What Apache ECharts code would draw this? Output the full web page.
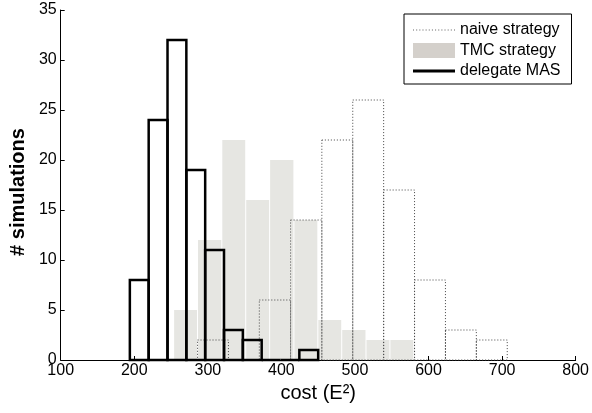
<!DOCTYPE html>
<html>
<head>
<meta charset="utf-8">
<script src="https://cdn.jsdelivr.net/npm/echarts@6/dist/echarts.min.js"></script>
<style>
html,body{margin:0;padding:0;background:#fff;}
#c{width:592px;height:413px;}
</style>
</head>
<body>
<div id="c"></div>
<script>
// Bin edges (cost, E^2) and counts
var naiveEdges = [286, 328, 370, 412.5, 455, 497, 539, 581, 623, 665, 707];
var naiveCounts = [2, 0, 6, 14, 22, 26, 17, 8, 3, 2];

var tmcEdges = [253.5, 286, 319, 351.5, 384, 417, 449.5, 482, 515, 547.5, 580];
var tmcCounts = [5, 12, 22, 16, 20, 14, 4, 3, 2, 2];

var masEdges = [194, 219.6, 245.2, 270.8, 296.4, 322, 347.6, 373.2, 398.8, 424.4, 450];
var masCounts = [8, 24, 32, 19, 11, 3, 2, 0, 0, 1];

var xTicks = {min: 100, max: 800, interval: 100};
var yTicks = {min: 0, max: 35, interval: 5};

var seriesNames = ['naive strategy', 'TMC strategy', 'delegate MAS'];

function bins(edges, counts) {
  var out = [];
  for (var i = 0; i < counts.length; i++) out.push([edges[i], edges[i + 1], counts[i]]);
  return out;
}

var FONT = '"Liberation Sans", Arial, sans-serif';

function makeRender(kind) {
  return function (params, api) {
    var p0 = api.coord([api.value(0), 0]);
    var p1 = api.coord([api.value(1), api.value(2)]);
    var x = p0[0], w = p1[0] - p0[0], y = p1[1], h = p0[1] - p1[1];
    if (kind === 'tmc') {
      return {type: 'rect', shape: {x: x + 0.5, y: y, width: w - 1, height: h},
        style: {fill: '#e6e6e2', stroke: null}};
    }
    if (kind === 'naive') {
      return {type: 'rect', shape: {x: x, y: y, width: w, height: h},
        style: {fill: null, stroke: '#444', lineWidth: 1, lineDash: [1, 2]}};
    }
    return {type: 'rect', shape: {x: x, y: y, width: w, height: h},
      style: {fill: null, stroke: '#000', lineWidth: 2.5}};
  };
}

var dotPath = 'path://';
for (var k = 0; k < 42; k += 3) dotPath += 'M' + k + ',0h1v1h-1z';

var chart = echarts.init(document.getElementById('c'), null, {renderer: 'canvas'});
chart.setOption({
  animation: false,
  backgroundColor: '#fff',
  grid: {left: 58, right: 15, top: 10, bottom: 53},
  legend: {
    orient: 'vertical',
    left: 404, top: 14,
    padding: [8, 11, 5, 9],
    itemGap: 4.5,
    itemWidth: 42, itemHeight: 15,
    itemTextGap: 6,
    selectedMode: false,
    borderColor: '#000', borderWidth: 1, backgroundColor: '#fff',
    textStyle: {fontFamily: FONT, fontSize: 16, color: '#000', lineHeight: 16},
    data: [
      {name: seriesNames[0], icon: dotPath, itemStyle: {color: '#666'}},
      {name: seriesNames[1], icon: 'rect', itemStyle: {color: '#d4d0cb'}},
      {name: seriesNames[2], icon: 'path://M0,0h42v3h-42z', itemStyle: {color: '#000'}}
    ]
  },
  xAxis: {
    type: 'value', min: xTicks.min, max: xTicks.max, interval: xTicks.interval,
    name: 'cost (E\u00b2)', nameLocation: 'middle', nameGap: 23,
    nameTextStyle: {fontFamily: FONT, fontSize: 20, color: '#000'},
    axisLine: {lineStyle: {color: '#000', width: 1}},
    axisTick: {inside: true, length: 4, lineStyle: {color: '#000'}},
    axisLabel: {fontFamily: FONT, fontSize: 16, color: '#000', margin: 3},
    splitLine: {show: false}
  },
  yAxis: {
    type: 'value', min: yTicks.min, max: yTicks.max, interval: yTicks.interval,
    name: '# simulations', nameLocation: 'middle', nameGap: 31,
    nameTextStyle: {fontFamily: FONT, fontSize: 20, fontWeight: 'bold', color: '#000', padding: [0, 14, 0, 0]},
    axisLine: {show: true, lineStyle: {color: '#000', width: 1}},
    axisTick: {show: true, inside: true, length: 4, lineStyle: {color: '#000'}},
    axisLabel: {fontFamily: FONT, fontSize: 16, color: '#000', margin: 4},
    splitLine: {show: false}
  },
  series: [
    {name: seriesNames[1], type: 'custom', z: 1, renderItem: makeRender('tmc'),
      itemStyle: {color: '#d4d0cb'}, encode: {x: [0, 1], y: 2}, data: bins(tmcEdges, tmcCounts)},
    {name: seriesNames[0], type: 'custom', z: 2, renderItem: makeRender('naive'),
      itemStyle: {color: '#666'}, encode: {x: [0, 1], y: 2}, data: bins(naiveEdges, naiveCounts)},
    {name: seriesNames[2], type: 'custom', z: 3, renderItem: makeRender('mas'),
      itemStyle: {color: '#000'}, encode: {x: [0, 1], y: 2}, data: bins(masEdges, masCounts)}
  ]
});
</script>
</body>
</html>
